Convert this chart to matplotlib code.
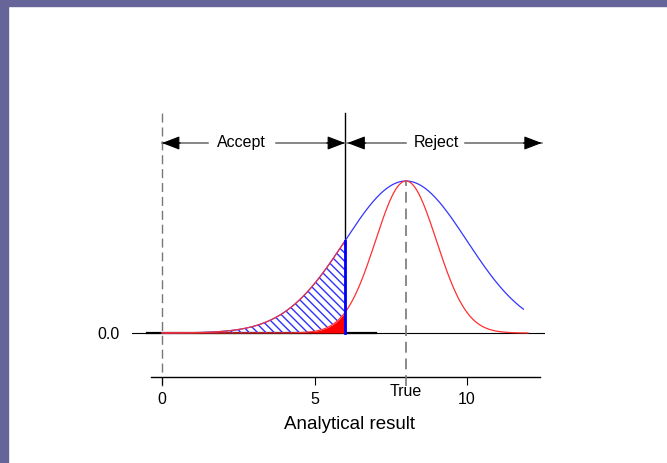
import numpy as np
import matplotlib
matplotlib.use('Agg')
import matplotlib.pyplot as plt
from matplotlib.patches import Rectangle

plt.rcParams['font.family'] = ['Liberation Sans', 'DejaVu Sans']
plt.rcParams['hatch.linewidth'] = 1.0

# distributions (peak scaled to 1)
true_value = 8.0
limit = 6.0
sd_narrow = 1.0
sd_wide = 2.0
red_range = [0.0, 12.0]
blue_range = [0.0, 11.85]
xticks = [0, 5, 10]
xtick_labels = ['0', '5', '10']
ytick_labels = ['0.0']
zone_labels = ['Accept', 'Reject']

def curve(x, sd):
    return np.exp(-(x - true_value) ** 2 / (2 * sd ** 2))

fig = plt.figure(figsize=(6.67, 4.63), dpi=100)
fig.patch.set_facecolor('white')

# purple frame on top / left
fig.patches.append(Rectangle((0, 1 - 6 / 463), 1, 6 / 463, transform=fig.transFigure,
                             color='#656599', zorder=0))
fig.patches.append(Rectangle((0, 0), 8 / 667, 1, transform=fig.transFigure,
                             color='#656599', zorder=0))

ax = fig.add_axes([132 / 667, (463 - 377) / 463, (545 - 132) / 667, (377 - 100) / 463])
ax.set_xlim((132 - 162) / 30.5, (545 - 162) / 30.5)
ax.set_ylim(-(377 - 333) / 152, (333 - 100) / 152)

for s in ['left', 'top', 'right']:
    ax.spines[s].set_visible(False)
ax.spines['bottom'].set_bounds(-0.36, 12.4)
ax.spines['bottom'].set_linewidth(1.0)

ax.set_xticks(xticks)
ax.set_xticklabels(xtick_labels, fontsize=11.5)
ax.tick_params(axis='x', direction='out', length=6, width=0.8, pad=5)
ax.set_yticks([0])
ax.set_yticklabels(ytick_labels, fontsize=11.5)
ax.tick_params(axis='y', length=0, pad=9)

# baselines
ax.axhline(0, color='black', lw=0.8, zorder=1)
ax.plot([-0.5, 7.0], [0, 0], color='black', lw=1.6, zorder=1)

xr = np.linspace(red_range[0], red_range[1], 400)
xb = np.linspace(blue_range[0], blue_range[1], 400)
yr = curve(xr, sd_narrow)
yb = curve(xb, sd_wide)

# shaded parts left of the limit
xs = np.linspace(0, limit, 300)
ax.fill_between(xs, curve(xs, sd_narrow), curve(xs, sd_wide), facecolor='none',
                edgecolor='#3030ff', hatch='\\\\\\\\', lw=0, zorder=2)
ax.fill_between(xs, 0, curve(xs, sd_narrow), color='red', lw=0, zorder=3)

ax.plot(xb, yb, color='#3535ff', lw=0.9, zorder=4)
ax.plot(xr, yr, color='#ff3030', lw=0.9, zorder=4)
ax.plot(xs, curve(xs, sd_wide), color='#ff3030', lw=0.8, zorder=5)

# limit line
ax.plot([limit, limit], [0, 1.447], color='black', lw=1.0, zorder=3, clip_on=False)
ax.plot([limit, limit], [0, curve(limit, sd_wide)], color='#0000ff', lw=2.0, zorder=6)

# dashed markers
ax.plot([0, 0], [-0.349, 1.447], color='#777777', lw=1.0, dashes=(6.5, 3.5),
        zorder=1, clip_on=False)
ax.plot([true_value, true_value], [-0.349, 1.0], color='#777777', lw=1.2,
        dashes=(6.5, 3.5), zorder=5, clip_on=False)

# zone arrows
ya = 1.25
segments = [(1.5, 0.0), (3.75, limit), (8.0, limit + 0.08), (9.95, 12.45)]
for start, tip in segments:
    ax.plot([start, tip], [ya, ya], color='#666666', lw=1.1, clip_on=False, zorder=4)
    d = 0.6 if tip > start else -0.6
    ax.annotate('', xy=(tip, ya), xytext=(tip - d, ya),
                arrowprops=dict(arrowstyle='-|>,head_length=1.1,head_width=0.42',
                                color='black', lw=0.8, shrinkA=0, shrinkB=0),
                annotation_clip=False, zorder=5)
ax.text(2.6, ya, zone_labels[0], ha='center', va='center', fontsize=11.5)
ax.text(9.0, ya, zone_labels[1], ha='center', va='center', fontsize=11.5)

ax.text(true_value, -0.388, 'True', ha='center', va='center', fontsize=11.5)
ax.text(6.16, -0.605, 'Analytical result', ha='center', va='center', fontsize=13.5)

fig.savefig('out.png', dpi=100)
